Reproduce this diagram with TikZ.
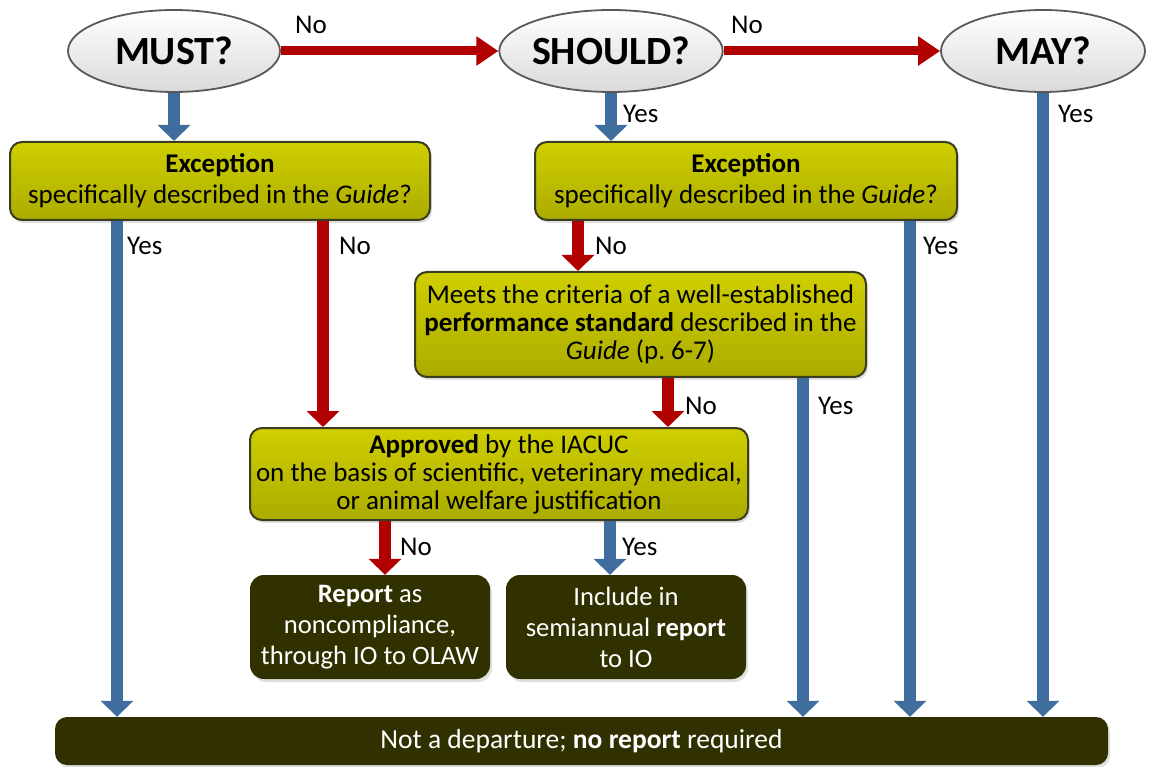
\documentclass[tikz,border=0pt]{standalone}
\usepackage{fontspec}
\setmainfont{Carlito}
\usetikzlibrary{arrows.meta,shapes.geometric,shadows}
\definecolor{bluearr}{HTML}{3F6E9E}
\definecolor{redarr}{HTML}{B00000}
\definecolor{olivetop}{HTML}{CFCF00}
\definecolor{olivebot}{HTML}{ABAB00}
\definecolor{oliveedge}{HTML}{3C3C20}
\definecolor{darkbox}{HTML}{303000}
\definecolor{ellbot}{HTML}{DADADA}
\tikzset{
  qell/.style={ellipse, draw=black!65, line width=1.8pt, top color=white, bottom color=ellbot,
    minimum height=82pt, inner sep=0pt, font=\bfseries\fontsize{40}{44}\selectfont},
  obox/.style={rectangle, rounded corners=12pt, draw=oliveedge, line width=2pt,
    top color=olivetop, bottom color=olivebot, align=center, inner sep=0pt,
    font=\fontsize{27}{28}\selectfont,
    drop shadow={shadow xshift=2pt, shadow yshift=-3pt, opacity=0.25}},
  dbox/.style={rectangle, rounded corners=14pt, fill=darkbox, text=white, align=center,
    inner sep=0pt, font=\fontsize{26.6}{31}\selectfont,
    drop shadow={shadow xshift=2pt, shadow yshift=-3pt, opacity=0.25}},
  barr/.style={draw=bluearr, line width=12pt, -{Triangle[width=32pt,length=16pt]}},
  rarr/.style={draw=redarr, line width=12pt, -{Triangle[width=32pt,length=16pt]}},
  rharr/.style={draw=redarr, line width=9pt, -{Triangle[width=28pt,length=22pt]}},
  lbl/.style={anchor=west, inner sep=0pt, font=\fontsize{27}{29}\selectfont}
}
\begin{document}
\begin{tikzpicture}[x=1pt,y=-1pt]
\useasboundingbox (0,0) rectangle (1149,767);
% ellipses
\node[qell, minimum width=212pt] (must) at (174,51) {MUST?};
\node[qell, minimum width=213pt] (should) at (611,51) {SHOULD?};
\node[qell, minimum width=204pt] (may) at (1043,51) {MAY?};
% olive boxes
\node[obox, minimum width=420pt, minimum height=78pt] (exc1) at (220,181)
  {\textbf{Exception}\\[3pt] specifically described in the \textit{Guide}?};
\node[obox, minimum width=422pt, minimum height=78pt] (exc2) at (746,181)
  {\textbf{Exception}\\[3pt] specifically described in the \textit{Guide}?};
\node[obox, minimum width=451pt, minimum height=105pt] (perf) at (640.5,324.5)
  {Meets the criteria of a well-established\\ \textbf{performance standard} described in the\\ \textit{Guide} (p.~6-7)};
\node[obox, minimum width=498pt, minimum height=92pt] (appr) at (499,474)
  {\textbf{Approved} by the IACUC\\ on the basis of scientific, veterinary medical,\\ or animal welfare justification};
% dark boxes
\node[dbox, minimum width=240pt, minimum height=104pt] (rep) at (370,627)
  {\textbf{Report} as\\ noncompliance,\\ through IO to OLAW};
\node[dbox, minimum width=240pt, minimum height=104pt] (inc) at (626,627)
  {Include in\\ semiannual \textbf{report}\\ to IO};
\node[dbox, rounded corners=12pt, minimum width=1053pt, minimum height=48pt,
  font=\fontsize{27.5}{30}\selectfont] (bot) at (581.5,741)
  {Not a departure; \textbf{no report} required};
% column coordinates
\coordinate (c117) at (117,0);
\coordinate (c323) at (323,0);
\coordinate (c578) at (578,0);
\coordinate (c910) at (910,0);
\coordinate (c668) at (668,0);
\coordinate (c803) at (803,0);
\coordinate (c385) at (385,0);
\coordinate (c610) at (610,0);
% top horizontal arrows
\draw[rharr] (must.east) -- (should.west);
\draw[rharr] (should.east) -- (may.west);
\node[lbl] (lno1) at (295,25) {No};
\node[lbl] (lno2) at (731,25) {No};
% down from ellipses
\draw[barr] (must.south) -- (must.south |- exc1.north);
\draw[barr] (should.south) -- (should.south |- exc2.north);
\draw[barr] (may.south) -- (may.south |- bot.north);
\node[lbl] (lyes1) at (623,114) {Yes};
\node[lbl] (lyes2) at (1058,114) {Yes};
% from exception 1
\draw[barr] (exc1.south -| c117) -- (bot.north -| c117);
\draw[rarr] (exc1.south -| c323) -- (appr.north -| c323);
\node[lbl] (lyes3) at (127,246) {Yes};
\node[lbl] (lno3) at (339,246) {No};
% from exception 2
\draw[rarr] (exc2.south -| c578) -- (perf.north -| c578);
\draw[barr] (exc2.south -| c910) -- (bot.north -| c910);
\node[lbl] (lno4) at (595,246) {No};
\node[lbl] (lyes4) at (923,246) {Yes};
% from performance
\draw[rarr] (perf.south -| c668) -- (appr.north -| c668);
\draw[barr] (perf.south -| c803) -- (bot.north -| c803);
\node[lbl] (lno5) at (685,406) {No};
\node[lbl] (lyes5) at (818,406) {Yes};
% from approved
\draw[rarr] (appr.south -| c385) -- (rep.north -| c385);
\draw[barr] (appr.south -| c610) -- (inc.north -| c610);
\node[lbl] (lno6) at (400,547) {No};
\node[lbl] (lyes6) at (622,547) {Yes};
\end{tikzpicture}
\end{document}
